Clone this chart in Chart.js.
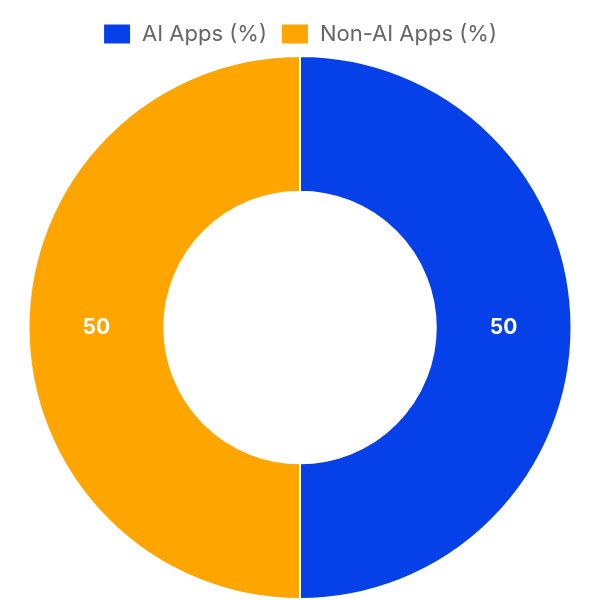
<!DOCTYPE html>
<html>
<head>
<meta charset="utf-8">
<script src="https://cdn.jsdelivr.net/npm/chart.js@4"></script>
<style>
  html, body { margin: 0; padding: 0; background: #fff; }
  #wrap { width: 600px; height: 600px; }
</style>
</head>
<body>
<div id="wrap"><canvas id="chart"></canvas></div>
<script>
const labels = ['AI Apps (%)', 'Non-AI Apps (%)'];
const values = [50, 50];
const colors = ['#0540E8', '#FFA500'];

// draws the value in the middle of each slice
const sliceLabels = {
    id: 'sliceLabels',
    afterDatasetsDraw(chart) {
        const ctx = chart.ctx;
        const meta = chart.getDatasetMeta(0);
        ctx.save();
        ctx.fillStyle = '#fff';
        ctx.font = 'bold 21px Inter, Roboto, sans-serif';
        ctx.textAlign = 'center';
        ctx.textBaseline = 'middle';
        meta.data.forEach((arc, i) => {
            const p = arc.tooltipPosition();
            ctx.fillText(String(values[i]), p.x, p.y);
        });
        ctx.restore();
    }
};

new Chart(document.getElementById('chart'), {
    type: 'doughnut',
    data: {
        labels: labels,
        datasets: [{
            data: values,
            backgroundColor: colors,
            borderColor: '#fff',
            borderWidth: 2
        }]
    },
    options: {
        responsive: true,
        maintainAspectRatio: false,
        animation: false,
        cutout: '50%',
        layout: { padding: { top: 9, bottom: 0 } },
        plugins: {
            legend: {
                position: 'top',
                labels: {
                    boxWidth: 28,
                    boxHeight: 21,
                    color: '#666',
                    padding: 14,
                    font: { size: 22, family: 'Inter, Roboto, sans-serif' }
                }
            },
            tooltip: { enabled: false }
        }
    },
    plugins: [sliceLabels]
});
</script>
</body>
</html>
